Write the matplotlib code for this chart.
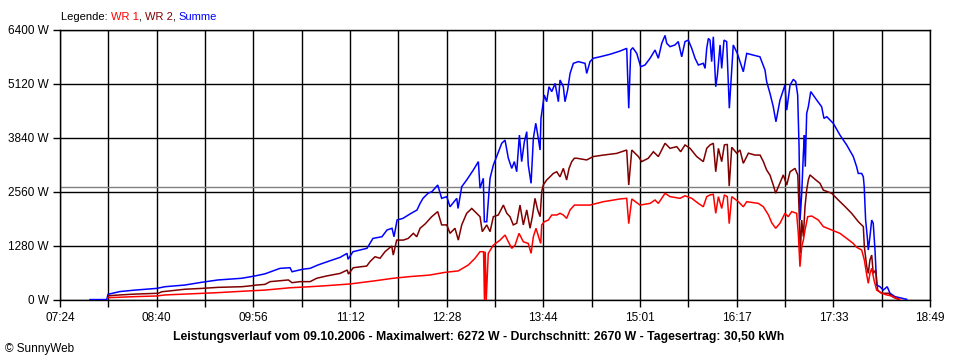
import matplotlib
matplotlib.use('Agg')
import matplotlib.pyplot as plt
import numpy as np

plt.rcParams['font.family'] = ['Liberation Sans', 'DejaVu Sans']

# ---------------- data ----------------
time_start = 444   # 07:24 in minutes after midnight
time_end = 1129    # 18:49
n_intervals = 18
y_ticks = [0, 1280, 2560, 3840, 5120, 6400]
y_labels = ['0 W', '1280 W', '2560 W', '3840 W', '5120 W', '6400 W']
x_labels = ['07:24', '08:40', '09:56', '11:12', '12:28', '13:44', '15:01',
            '16:17', '17:33', '18:49']
average_w = 2670
title = ('Leistungsverlauf vom 09.10.2006 - Maximalwert: 6272 W - '
         'Durchschnitt: 2670 W - Tagesertrag: 30,50 kWh')

# (minutes after midnight, watts)
summe_pts = [
    (467.6, 10), (480.8, 10), (481.8, 135), (491.2, 200), (503.1, 235),
    (520.1, 275), (526.7, 315), (542.4, 355), (555.6, 420), (568.4, 475),
    (587.1, 515), (597.5, 570), (605.4, 620), (617.2, 750), (625.1, 765),
    (626.7, 670), (635.3, 730), (640.9, 750), (647.1, 830), (656.6, 930),
    (664.5, 1010), (670.0, 1105), (670.8, 965), (674.7, 1145), (685.7, 1225),
    (690.4, 1460), (697.5, 1500), (701.5, 1660), (705.4, 1700), (707.0, 1500),
    (709.4, 1896), (714.1, 1936), (719.6, 2040), (725.1, 2133), (727.5, 2290),
    (729.8, 2410), (733.8, 2530), (736.9, 2570), (741.4, 2725), (744.5, 2410),
    (748.5, 2450), (751.1, 2210), (756.4, 2410), (757.4, 2170), (760.3, 2685),
    (764.2, 2845), (769.4, 3080), (773.4, 3280), (774.7, 2650), (777.3, 2885),
    (778.1, 1855), (780.0, 1855), (782.6, 2885), (785.2, 3200), (787.8, 3400),
    (791.8, 3715), (794.4, 3790), (797.0, 3360), (799.7, 3120), (801.7, 3280),
    (803.6, 3040), (805.7, 3910), (807.5, 3280), (809.6, 3750), (811.5, 3990),
    (812.7, 3200), (814.9, 2765), (816.7, 3830), (818.6, 4190), (820.6, 3830),
    (822.0, 3555), (822.7, 4305), (823.8, 4545), (825.3, 4860), (827.2, 4700),
    (829.0, 5055), (831.2, 4940), (833.8, 5135), (836.4, 4700), (837.7, 5215),
    (840.3, 5055), (841.6, 4700), (843.7, 4980), (845.6, 5370), (848.2, 5610),
    (852.1, 5650), (857.4, 5610), (858.7, 5370), (861.3, 5650), (863.9, 5730),
    (869.2, 5765), (877.1, 5825), (884.9, 5900), (890.2, 5965), (891.8, 4545),
    (893.4, 5925), (895.0, 5980), (898.1, 5845), (901.2, 5530), (904.6, 5570),
    (908.6, 5730), (912.5, 5925), (915.1, 5730), (917.8, 6085), (920.4, 6272),
    (921.7, 6085), (924.3, 6005), (928.2, 6045), (930.8, 6125), (933.5, 5765),
    (936.1, 6125), (938.7, 6160), (941.4, 5965), (944.0, 5730), (946.6, 5570),
    (950.5, 5610), (951.9, 5490), (953.2, 5965), (954.5, 6200), (955.8, 6160),
    (957.1, 5650), (958.4, 6240), (960.3, 5055), (961.6, 5330), (963.7, 6045),
    (965.0, 5490), (966.8, 6160), (968.9, 6125), (971.0, 4545), (974.1, 6045),
    (977.3, 5845), (982.0, 5410), (984.7, 5845), (989.9, 5805), (995.1, 5765),
    (999.1, 5450), (1000.4, 5175), (1003.0, 4900), (1005.6, 4580), (1007.7, 4225),
    (1010.9, 4740), (1014.8, 5095), (1016.2, 4500), (1018.8, 5095), (1021.4, 5230),
    (1023.3, 5175), (1024.8, 4860), (1025.9, 3630), (1026.7, 1895), (1028.0, 2530),
    (1029.3, 3480), (1030.1, 3910), (1030.8, 3160), (1031.9, 4425), (1033.2, 4580),
    (1035.1, 4940), (1039.8, 4740), (1043.7, 4580), (1045.5, 4305), (1047.7, 4345),
    (1052.9, 4185), (1058.1, 3910), (1063.4, 3675), (1068.6, 3400), (1071.2, 3160),
    (1072.5, 3000), (1075.2, 3000), (1076.5, 2920), (1077.2, 2685), (1078.3, 1900),
    (1079.6, 1500), (1080.4, 1185), (1081.7, 1500), (1083.1, 1895), (1084.3, 1820),
    (1085.7, 1185), (1087.0, 355), (1089.6, 315), (1092.2, 235), (1095.3, 315),
    (1097.5, 160), (1101.4, 80), (1110.7, 15),
]

wr2_pts = [
    (482.0, 100), (491.2, 120), (503.1, 140), (521.4, 160), (524.1, 195),
    (542.4, 255), (555.6, 275), (568.6, 300), (587.1, 315), (592.3, 330),
    (598.9, 355), (605.4, 370), (609.4, 435), (623.8, 475), (626.7, 410),
    (633.0, 435), (640.9, 435), (646.1, 515), (654.0, 570), (664.5, 630),
    (670.2, 710), (671.1, 615), (674.9, 765), (685.5, 805), (688.1, 910),
    (692.0, 1025), (696.0, 990), (699.9, 1145), (705.2, 1280), (706.4, 1065),
    (709.1, 1420), (714.3, 1420), (718.2, 1460), (722.2, 1580), (724.9, 1500),
    (727.5, 1700), (731.4, 1800), (736.7, 1975), (741.4, 2095), (744.5, 1780),
    (748.5, 1780), (751.1, 1580), (755.0, 1700), (757.6, 1420), (760.3, 1780),
    (764.2, 2055), (768.2, 2170), (772.1, 2055), (774.7, 1975), (776.5, 1620),
    (780.0, 1780), (782.6, 1620), (785.2, 1975), (789.1, 2015), (793.1, 2250),
    (795.8, 2055), (798.3, 1975), (800.9, 1780), (803.6, 1820), (806.2, 2250),
    (808.8, 1780), (811.5, 2135), (814.1, 1700), (815.9, 1975), (818.0, 2410),
    (820.1, 2135), (822.0, 1975), (823.3, 2570), (824.5, 2725), (827.2, 2845),
    (829.8, 2920), (832.4, 3000), (835.1, 3040), (837.7, 2920), (840.3, 3120),
    (842.9, 2845), (844.8, 3120), (846.9, 3280), (849.0, 3360), (850.9, 3360),
    (858.7, 3320), (863.9, 3400), (871.8, 3435), (882.3, 3475), (890.2, 3555),
    (891.8, 2725), (894.2, 3555), (899.4, 3400), (902.0, 3280), (907.2, 3360),
    (911.2, 3515), (915.1, 3400), (920.4, 3715), (924.3, 3595), (929.6, 3635),
    (932.7, 3515), (936.1, 3675), (940.1, 3595), (945.3, 3400), (950.5, 3280),
    (953.2, 3595), (955.8, 3675), (958.4, 3715), (960.3, 3040), (962.4, 3595),
    (965.0, 3280), (967.1, 3675), (969.4, 3690), (970.9, 2700), (972.9, 3620),
    (976.8, 3480), (979.4, 3555), (982.0, 3240), (986.0, 3480), (991.3, 3435),
    (995.2, 3435), (997.8, 3280), (1000.4, 3080), (1003.0, 2960), (1005.6, 2725),
    (1007.5, 2530), (1009.6, 2685), (1013.5, 2965), (1016.2, 2725), (1018.8, 3040),
    (1022.7, 3120), (1024.9, 2965), (1025.9, 2135), (1026.9, 1105), (1028.0, 1895),
    (1029.3, 1500), (1030.6, 2215), (1031.9, 2605), (1033.2, 2845), (1034.5, 2965),
    (1038.5, 2860), (1042.4, 2765), (1045.0, 2605), (1051.6, 2530), (1056.8, 2370),
    (1062.1, 2215), (1067.3, 2055), (1072.6, 1855), (1076.5, 1740), (1077.3, 1265),
    (1079.2, 790), (1080.4, 630), (1081.7, 950), (1083.1, 1065), (1084.3, 630),
    (1086.2, 710), (1087.8, 235), (1090.9, 160), (1096.2, 160), (1100.1, 65),
    (1104.1, 15),
]

wr1_pts = [
    (482.0, 55), (503.1, 80), (520.1, 95), (526.7, 120), (542.4, 140),
    (568.6, 175), (592.3, 215), (605.4, 235), (625.1, 290), (640.9, 315),
    (654.0, 340), (672.3, 380), (690.7, 450), (706.4, 515), (719.6, 555),
    (734.8, 590), (747.1, 655), (757.6, 690), (765.5, 830), (770.8, 990),
    (774.7, 1145), (777.5, 1145), (778.2, 0), (778.8, 1145), (779.6, 0),
    (781.2, 1105), (785.2, 1300), (790.5, 1420), (794.4, 1540), (797.0, 1380),
    (799.7, 1225), (802.3, 1300), (805.4, 1580), (808.8, 1380), (812.7, 1340),
    (814.9, 1105), (816.7, 1500), (818.8, 1700), (821.2, 1460), (822.5, 1340),
    (823.3, 1780), (825.3, 1855), (828.5, 1895), (831.2, 2015), (835.1, 2015),
    (837.7, 2055), (840.3, 2015), (842.9, 1935), (845.6, 2135), (849.0, 2250),
    (850.9, 2250), (861.3, 2250), (871.8, 2330), (884.9, 2395), (890.2, 2410),
    (891.8, 1810), (894.2, 2395), (900.7, 2250), (908.6, 2290), (912.5, 2370),
    (915.1, 2290), (920.4, 2530), (924.3, 2450), (932.2, 2410), (936.1, 2470),
    (941.4, 2410), (946.6, 2290), (950.5, 2210), (953.2, 2450), (955.8, 2490),
    (958.4, 2505), (960.3, 2055), (962.4, 2450), (965.0, 2170), (967.1, 2490),
    (969.4, 2450), (970.9, 1810), (972.9, 2450), (978.1, 2330), (982.0, 2210),
    (984.7, 2330), (993.9, 2290), (997.8, 2210), (1001.8, 2015), (1004.4, 1830),
    (1007.5, 1700), (1010.9, 1820), (1014.8, 2055), (1017.4, 1975), (1020.1, 2095),
    (1024.0, 2055), (1025.3, 1580), (1026.6, 790), (1028.0, 1265), (1029.3, 1420),
    (1030.6, 1660), (1032.7, 1975), (1035.9, 1990), (1041.1, 1895), (1045.0, 1740),
    (1051.6, 1660), (1058.1, 1580), (1063.4, 1460), (1068.6, 1340), (1071.2, 1250),
    (1075.2, 1185), (1077.3, 950), (1079.2, 590), (1080.4, 395), (1081.7, 630),
    (1083.1, 750), (1084.9, 475), (1087.0, 235), (1090.9, 160), (1094.9, 120),
    (1098.8, 95), (1102.7, 40), (1105.3, 15),
]

col_wr1 = '#ff0000'
col_wr2 = '#800000'
col_sum = '#0000ff'

# ---------------- figure ----------------
W, H = 960, 360
fig = plt.figure(figsize=(W / 100, H / 100), dpi=100)
fig.patch.set_facecolor('white')
ax = fig.add_axes([60 / W, 60 / H, 870 / W, 270 / H])

ax.set_xlim(time_start, time_end)
ax.set_ylim(0, y_ticks[-1])

xt = np.linspace(time_start, time_end, n_intervals + 1)
ax.set_xticks(xt)
lab = []
for i in range(len(xt)):
    lab.append(x_labels[i // 2] if i % 2 == 0 else '')
ax.set_xticklabels(lab)
ax.set_yticks(y_ticks)
ax.set_yticklabels(y_labels)

ax.grid(True, color='black', linewidth=1.0)
ax.set_axisbelow(True)
for s in ax.spines.values():
    s.set_color('black')
    s.set_linewidth(1.0)
ax.tick_params(axis='both', direction='out', length=5, width=1.0,
               color='black', labelsize=8.5, labelcolor='black')
ax.tick_params(axis='x', pad=3.5)
ax.tick_params(axis='y', pad=3)

ax.axhline(average_w, color='#808080', linewidth=1.0, zorder=1.5)

for pts, col in ((summe_pts, col_sum), (wr2_pts, col_wr2), (wr1_pts, col_wr1)):
    t = [p[0] for p in pts]
    w = [p[1] for p in pts]
    ax.plot(t, w, color=col, linewidth=1.1, solid_joinstyle='miter', zorder=3)

# legend line with coloured words
fs = 8
parts = [('Legende: ', 'black'), ('WR 1', col_wr1), (', ', 'black'),
         ('WR 2', col_wr2), (', ', 'black'), ('Summe', col_sum)]
prev = fig.text(61 / W, (H - 17) / H, parts[0][0], color=parts[0][1],
                fontsize=fs, ha='left', va='center')
for txt, col in parts[1:]:
    prev = ax.annotate(txt, xy=(1, 0), xycoords=prev, color=col, fontsize=fs,
                       ha='left', va='bottom', annotation_clip=False)

fig.text(479 / W, (H - 337) / H, title, fontsize=8.8, fontweight='bold',
         ha='center', va='center', color='black')
fig.text(5 / W, (H - 349) / H, '\u00a9 SunnyWeb', fontsize=8.5,
         ha='left', va='center', color='black')

fig.savefig('out.png', dpi=100, facecolor='white')
